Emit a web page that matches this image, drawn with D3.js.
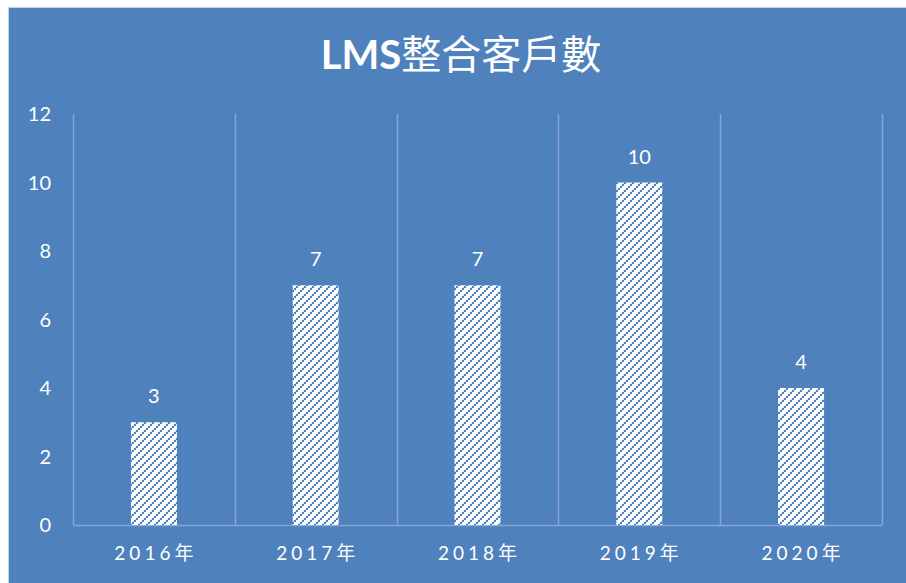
<!DOCTYPE html>
<html><head><meta charset="utf-8">
<script src="https://cdn.jsdelivr.net/npm/d3@7/dist/d3.min.js"></script>
<style>
html,body{margin:0;padding:0;background:#fff;}
svg{display:block;}
</style></head>
<body>
<svg id="chart" width="906" height="583"></svg>
<script>
const categories = ["2016年","2017年","2018年","2019年","2020年"];
const values = [3, 7, 7, 10, 4];
const yTicks = [0, 2, 4, 6, 8, 10, 12];
const titleLatin = "LMS";
const titleCJK = "整合客戶數";

const W = 906, H = 583;
const bg = "#4F81BD";
const svg = d3.select("#chart");

// pattern
const defs = svg.append("defs");
const pat = defs.append("pattern").attr("id","hatch").attr("patternUnits","userSpaceOnUse")
  .attr("width",8).attr("height",8);
pat.append("rect").attr("width",8).attr("height",8).attr("fill","#fff");
[[0,6],[2,4],[4,2],[6,0]].forEach(([a,b])=>{
  pat.append("rect").attr("x",a).attr("y",b).attr("width",2).attr("height",2).attr("fill","#4F81BD");
});
[[1,5],[3,3],[5,1],[7,7]].forEach(([a,b])=>{
  pat.append("rect").attr("x",a).attr("y",b).attr("width",1).attr("height",1).attr("fill","#C4D4EA");
});

// panel
svg.append("rect").attr("x",8).attr("y",7).attr("width",W-8).attr("height",H-7).attr("fill",bg);
svg.append("line").attr("x1",8).attr("x2",W).attr("y1",7.5).attr("y2",7.5).attr("stroke","#C5D3E6").attr("stroke-width",1);
svg.append("line").attr("x1",8.5).attr("x2",8.5).attr("y1",7).attr("y2",H).attr("stroke","#C5D3E6").attr("stroke-width",1);

const mLeft = 73, mRight = 882, mTop = 114, mBottom = 525;
const x = d3.scaleBand().domain(categories).range([mLeft, mRight]).padding(0);
const y = d3.scaleLinear().domain([0, 12]).range([mBottom, mTop]);

const gridColor = "#86A6D3";
// vertical separators
const seps = categories.map(c => x(c)).concat([x(categories[categories.length-1]) + x.bandwidth()]);
svg.append("g").selectAll("line").data(seps).join("line")
  .attr("x1", d => Math.round(d)+0.5).attr("x2", d => Math.round(d)+0.5)
  .attr("y1", y(12)).attr("y2", y(0))
  .attr("stroke", gridColor).attr("stroke-width", 1.5);
svg.append("line").attr("x1", mLeft).attr("x2", mRight).attr("y1", y(0)+0.5).attr("y2", y(0)+0.5)
  .attr("stroke", gridColor).attr("stroke-width", 1.5);

// y ticks
svg.append("g").selectAll("text").data(yTicks).join("text")
  .attr("x", 51).attr("y", d => y(d)).attr("dy","0.35em")
  .attr("text-anchor","end").attr("fill","#fff")
  .attr("font-family","Lato, 'Open Sans', sans-serif").attr("font-size",20)
  .text(d => d);

// bars
const bw = x.bandwidth()*0.284;
svg.append("g").selectAll("rect").data(values).join("rect")
  .attr("x", (d,i) => x(categories[i]) + x.bandwidth()/2 - bw/2)
  .attr("y", d => y(d))
  .attr("width", bw)
  .attr("height", d => y(0) - y(d))
  .attr("fill","url(#hatch)");

// data labels
svg.append("g").selectAll("text").data(values).join("text")
  .attr("x", (d,i) => x(categories[i]) + x.bandwidth()/2)
  .attr("y", d => y(d) - 26).attr("dy","0.35em")
  .attr("text-anchor","middle").attr("fill","#fff")
  .attr("font-family","Lato, 'Open Sans', sans-serif").attr("font-size",20)
  .text(d => d);

// category labels
svg.append("g").selectAll("text").data(categories).join("text")
  .attr("x", d => x(d) + x.bandwidth()/2 + 2)
  .attr("y", 553).attr("dy","0.35em")
  .attr("text-anchor","middle").attr("fill","#fff")
  .attr("font-family","Lato, 'Noto Sans CJK TC', sans-serif").attr("font-size",19)
  .attr("letter-spacing", 4)
  .text(d => d);

// title
const t = svg.append("text").attr("x", 461).attr("y", 55).attr("dy","0.35em")
  .attr("text-anchor","middle").attr("fill","#fff")
  .attr("font-family","Lato, 'Noto Sans CJK TC', sans-serif").attr("font-size",40);
t.append("tspan").attr("font-weight","bold").text(titleLatin);
t.append("tspan").attr("font-weight","normal").text(titleCJK);
</script>
</body></html>
